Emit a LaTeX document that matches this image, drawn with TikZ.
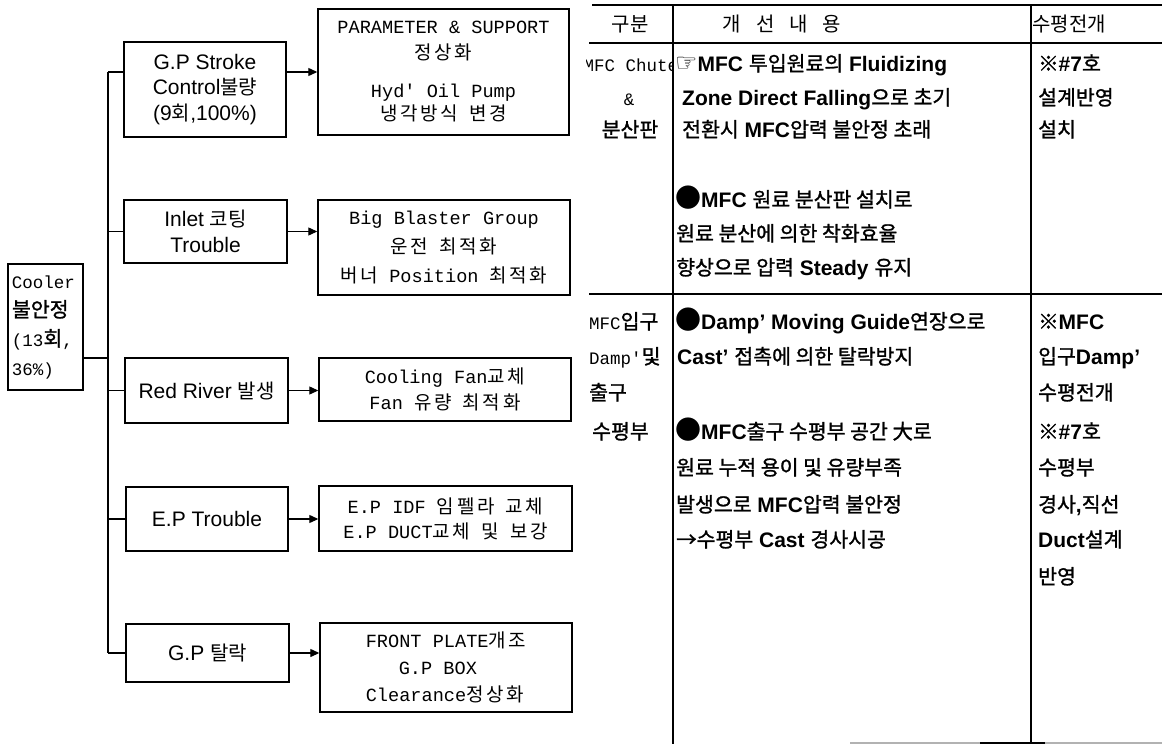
\documentclass[tikz,border=0pt]{standalone}
\usepackage{fontspec}
\setmainfont{Liberation Sans}
\newfontfamily\mo{Liberation Mono}
\newfontfamily\kr{Noto Sans CJK KR}
\newfontfamily\krt{Noto Sans CJK KR}[FakeBold=1.2]
\newfontfamily\krw{Noto Sans CJK KR}[Scale=1.02,LetterSpace=14]
\newfontfamily\sym{DejaVu Sans}
\usetikzlibrary{arrows.meta}
\newcommand\K[1]{{\kr\fontsize{20}{24}\selectfont #1}}
\newcommand\T[1]{{\krt\mdseries\fontsize{20.5}{24}\selectfont #1}}
\newcommand\W[1]{{\krw #1}}
\newcommand\KC[1]{{\krt\fontsize{20.5}{25}\selectfont #1}}
\newcommand\bdot{{\kr\fontsize{26}{24}\selectfont ●}}
\tikzset{
  lbox/.style={draw, line width=1.4pt, inner sep=0pt, align=center,
    font=\fontsize{21}{25.5}\selectfont},
  rbox/.style={draw, line width=1.4pt, inner sep=0pt, align=center,
    font=\mo\fontsize{18.6}{23}\selectfont},
  conn/.style={line width=1.4pt},
  arr/.style={line width=1.2pt, -{Triangle[length=9pt,width=8pt]}},
  grid/.style={line width=2.4pt},
  tl/.style={anchor=base west, inner sep=0pt, font=\fontsize{21}{25}\selectfont\bfseries},
  cl/.style={anchor=base west, inner sep=0pt, font=\mo\fontsize{17.5}{21}\selectfont},
  hd/.style={inner sep=0pt, font=\kr\fontsize{20}{20}\selectfont},
}
\begin{document}
\begin{tikzpicture}[x=1pt,y=-1pt]
\useasboundingbox (0,0) rectangle (1162,744);
\fill[white] (0,0) rectangle (1162,744);

% ---------- cause / effect diagram ----------
\node[draw, line width=1.4pt, minimum width=75, minimum height=126, inner ysep=0pt,
      inner xsep=4pt, text width=67pt, align=left,
      font=\mo\fontsize{17.5}{29}\selectfont] (cooler) at (45.5,327)
  {Cooler\\\KC{불안정}\\(13\KC{회},\\36\%)};

\node[lbox, minimum width=162, minimum height=95] (l1) at (205,89.5)
  {G.P Stroke\\Control\K{불량}\\(9\K{회},100\%)};
\node[lbox, minimum width=163, minimum height=63] (l2) at (205.5,231.5)
  {Inlet \K{코팅}\\Trouble};
\node[lbox, minimum width=163, minimum height=65] (l3) at (206.5,390.5)
  {Red River \K{발생}};
\node[lbox, minimum width=162, minimum height=64] (l4) at (207,519)
  {E.P Trouble};
\node[lbox, minimum width=163, minimum height=58] (l5) at (207.5,653)
  {G.P \K{탈락}};

\node[rbox, minimum width=251, minimum height=126] (r1) at (443.5,72)
  {PARAMETER \& SUPPORT\\[3pt]\W{정상화}\\[15pt]Hyd' Oil Pump\\\W{냉각방식} \W{변경}};
\node[rbox, minimum width=252, minimum height=95] (r2) at (444,247.5)
  {Big Blaster Group\\[6pt]\W{운전} \W{최적화}\\[6pt]\W{버너} Position \W{최적화}};
\node[rbox, minimum width=252, minimum height=63] (r3) at (445,389.5)
  {Cooling Fan\W{교체}\\[3pt]Fan \W{유량} \W{최적화}};
\node[rbox, minimum width=253, minimum height=65] (r4) at (445.5,518.5)
  {E.P IDF \W{임펠라} \W{교체}\\[2pt]E.P DUCT\W{교체} \W{및} \W{보강}};
\node[rbox, align=left, minimum width=252, minimum height=89] (r5) at (446,667.5)
  {FRONT PLATE\W{개조}\\[4pt]\hspace*{33pt}G.P BOX\\[4pt]Clearance\W{정상화}};

\coordinate (trunk) at (108,358);
\draw[conn] (cooler.east |- trunk) -- (trunk);
\draw[conn] (trunk |- r1.west) -- (trunk |- l5.west);
\draw[conn] (trunk |- r1.west) -- (l1.west |- r1.west);
\draw[conn] (trunk |- l2.west) -- (l2.west);
\draw[conn] (trunk |- l3.west) -- (l3.west);
\draw[conn] (trunk |- l4.west) -- (l4.west);
\draw[conn] (trunk |- l5.west) -- (l5.west);

\draw[arr] (l1.east |- r1.west) -- (r1.west);
\draw[arr] (l2.east) -- (r2.west |- l2.east);
\draw[arr] (l3.east) -- (r3.west |- l3.east);
\draw[arr] (l4.east) -- (r4.west |- l4.east);
\draw[arr] (l5.east) -- (r5.west |- l5.east);

% ---------- table ----------
\node[hd] (h1) at (630,24) {구분};
\node[hd] (h2) at (782,24) {개\hspace{15pt}선\hspace{15pt}내\hspace{15pt}용};
\node[hd, anchor=west] (h3) at (1032,24) {수평전개};

\begin{scope}
  \clip (586,45) rectangle (671,290);
  \node[cl, anchor=base] (c1a) at (631,71) {MFC Chute};
\end{scope}
\node[cl, anchor=base] (c1b) at (629,105) {\&};
\node[cl, anchor=base] (c1c) at (630,137) {\KC{분산판}};

\node[tl] (a1) at (675,71) {{\sym\mdseries\fontsize{25}{25}\selectfont ☞}MFC \T{투입원료의} Fluidizing};
\node[tl] (a2) at (682,105) {Zone Direct Falling\T{으로 초기}};
\node[tl] (a3) at (682,137) {\T{전환시} MFC\T{압력 불안정 초래}};
\node[tl] (a4) at (675,207) {\bdot MFC \T{원료 분산판 설치로}};
\node[tl] (a5) at (676,241) {\T{원료 분산에 의한 착화효율}};
\node[tl] (a6) at (676,275) {\T{향상으로 압력} Steady \T{유지}};

\node[tl] (b1) at (1038,71) {\T{※}\#7\T{호}};
\node[tl] (b2) at (1038,105) {\T{설계반영}};
\node[tl] (b3) at (1038,137) {\T{설치}};

\node[cl] (c2a) at (589,329) {MFC\KC{입구}};
\node[cl] (c2b) at (589,364) {Damp'\KC{및}};
\node[cl] (c2c) at (589,400) {\KC{출구}};
\node[cl] (c2d) at (592,439) {\KC{수평부}};

\node[tl] (d1) at (675,329) {\bdot Damp' Moving Guide\T{연장으로}};
\node[tl] (d2) at (677,364) {Cast' \T{접촉에 의한 탈락방지}};
\node[tl] (d3) at (675,439) {\bdot MFC\T{출구 수평부 공간 大로}};
\node[tl] (d4) at (676,475) {\T{원료 누적 용이 및 유량부족}};
\node[tl] (d5) at (676,512) {\T{발생으로} MFC\T{압력 불안정}};
\node[tl] (d6) at (676,547) {\T{→수평부} Cast \T{경사시공}};

\node[tl] (e1) at (1038,329) {\T{※}MFC};
\node[tl] (e2) at (1038,364) {\T{입구}Damp'};
\node[tl] (e3) at (1038,400) {\T{수평전개}};
\node[tl] (e4) at (1038,439) {\T{※}\#7\T{호}};
\node[tl] (e5) at (1038,475) {\T{수평부}};
\node[tl] (e6) at (1038,512) {\T{경사},\T{직선}};
\node[tl] (e7) at (1038,547) {Duct\T{설계}};
\node[tl] (e8) at (1038,584) {\T{반영}};

\draw[grid] (592,5) -- (1162,5);
\draw[grid] (589,43) -- (1162,43);
\draw[grid] (589,294) -- (1162,294);
\draw[line width=1.2pt, gray!60] (850,743) -- (1162,743);
\draw[line width=1.6pt] (980,743) -- (1045,743);
\draw[grid] (673,5) -- (673,744);
\draw[grid] (1031,5) -- (1031,744);
\end{tikzpicture}
\end{document}
